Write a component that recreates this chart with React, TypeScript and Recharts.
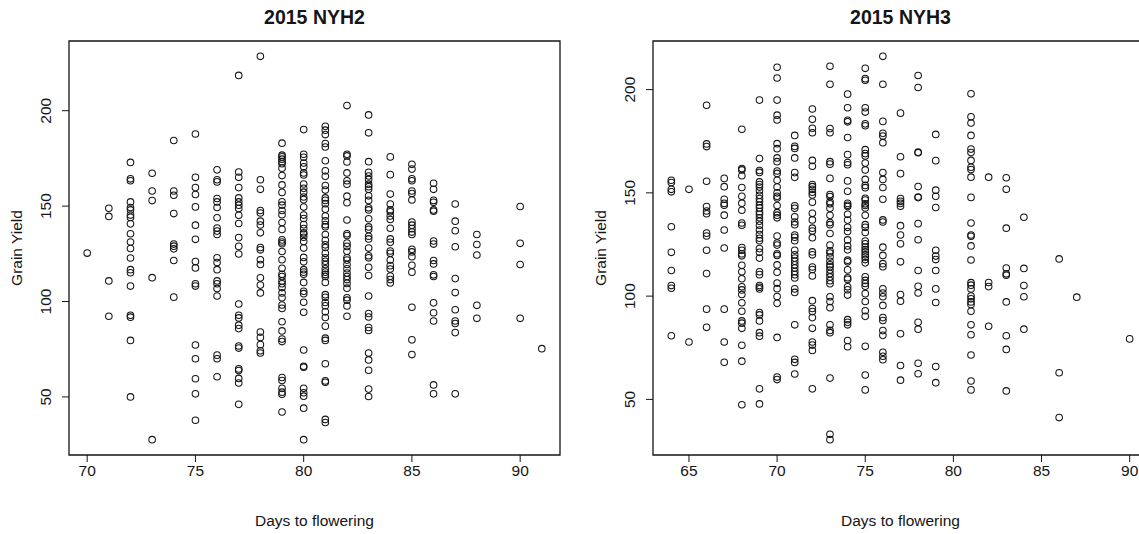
import React from "react";
import { ScatterChart, Scatter, XAxis, YAxis, ReferenceArea } from "recharts";

// 2015 NYH2: days to flowering and the grain yields recorded at each day
const NYH2_DAYS = [70, 71, 72, 73, 74, 75, 76, 77, 78, 79, 80, 81, 82, 83, 84, 85, 86, 87, 88, 90, 91];
const NYH2_YIELD = [
  [125.4],
  [148.9, 144.6, 110.8, 92.3],
  [172.9, 164.3, 163.3, 152.2, 149.3, 148, 145.3, 144.1, 140.7, 135.5, 131.2, 127.8, 122.8, 116.7, 115.1, 108.1, 92.8, 91.8, 79.6, 50],
  [167.2, 157.9, 152.9, 112.5, 27.6],
  [184.4, 157.9, 155.7, 146.1, 130.1, 129, 127.6, 121.5, 102.3],
  [187.8, 165.1, 159.7, 156.1, 149.6, 140, 132.6, 121, 117.6, 109.3, 108.1, 77.2, 70, 59.5, 51.6, 37.8],
  [169, 163.8, 162.7, 154, 152.2, 149.3, 143.9, 138.5, 136.9, 135.1, 122.9, 120.4, 116.7, 110.8, 109.3, 106.8, 102.9, 71.9, 70, 60.6],
  [218.5, 167.9, 165.1, 159.7, 154.3, 152.2, 150.5, 148.7, 145.2, 140.9, 133.5, 128.9, 124.9, 98.7, 92.8, 91.4, 87.6, 85.8, 76.7, 75.6, 64.7, 63.8, 59.7, 57.3, 46.1],
  [228.5, 163.8, 158.8, 147.7, 146.4, 142.1, 140.1, 136, 128.3, 127.1, 121.9, 119.4, 112.4, 108.6, 104.5, 84, 81.2, 77.4, 74.2, 73],
  [183, 176.7, 175.8, 174.6, 173.3, 172.2, 169.9, 166, 161.1, 157.2, 152.3, 150.5, 147.7, 145.5, 141.4, 137.8, 132.3, 131.2, 130.3, 126.2, 121.9, 117.4, 114.3, 113.1, 110.8, 109.3, 107.3, 104.5, 102, 98.2, 96.4, 89.4, 84.6, 80.3, 79, 60.2, 58.6, 54.5, 52.5, 51.4, 42.1],
  [190.1, 177.2, 175.6, 172.6, 170.6, 167.4, 166.3, 161.6, 159.3, 157.3, 154.8, 153.4, 149.5, 145.3, 143.5, 140.3, 138.2, 136, 135.3, 133.7, 131.5, 128, 123.1, 120.8, 116.7, 115.4, 114.3, 110, 105.4, 104.1, 99.6, 94.4, 74.6, 66.1, 65.6, 54.5, 52.2, 50.4, 44.1, 27.6],
  [191.8, 189.8, 187.5, 182.8, 181, 173.8, 168.5, 165.6, 160.8, 158.4, 154.3, 153, 151.3, 148.4, 144.8, 142.3, 140.3, 139.2, 135.1, 132.1, 129.7, 128.3, 125.3, 122.9, 121.1, 119.4, 117.2, 115.4, 114.2, 113.1, 110, 103.6, 102.2, 99.5, 97.8, 94.6, 91.6, 87.1, 80.8, 79.6, 67.4, 58.4, 57.7, 38.2, 36.6],
  [202.7, 177.2, 176.3, 173.1, 167.4, 163.3, 161.5, 155.2, 151.8, 142.7, 135.5, 134.6, 130.6, 128.9, 126.3, 122.9, 121.7, 119.4, 117.2, 114.9, 113.1, 111.5, 109.5, 107, 102, 100.7, 97.7, 92.3],
  [197.8, 188.4, 173.3, 167.7, 165.8, 164, 161.5, 160.2, 158.8, 155.4, 153, 149.1, 148, 143.4, 139.1, 137.8, 134.2, 132.8, 128, 124, 122.9, 117.9, 113.6, 102.9, 93.7, 91.9, 86.4, 84.8, 73, 69.4, 64, 54.1, 50.2],
  [175.8, 166.5, 156.3, 151.1, 148, 147, 144.8, 143, 138.4, 132.8, 131, 126.5, 125.3, 121.7, 118.8, 117, 113.3, 111.5, 109.7],
  [171.9, 169.4, 164.3, 163.3, 157.9, 156.6, 153.2, 141.6, 140, 138.2, 136.4, 135.1, 127.4, 126, 123.5, 119, 115.4, 97, 79.9, 72.2],
  [162, 158.8, 153, 152, 148, 147.3, 131.7, 130.1, 121.5, 119.7, 114, 113.1, 99.3, 94.1, 89.8, 56.3, 51.6],
  [151.1, 142.1, 137.1, 128.7, 112, 104.7, 95.7, 89.8, 88.5, 83.7, 51.6],
  [135.1, 129.9, 124.4, 98, 91.2],
  [149.8, 130.5, 119.4, 91.2],
  [75.3],
];
const NYH2_X_TICKS = [70, 75, 80, 85, 90];
const NYH2_Y_TICKS = [50, 100, 150, 200];

// 2015 NYH3
const NYH3_DAYS = [64, 65, 66, 67, 68, 69, 70, 71, 72, 73, 74, 75, 76, 77, 78, 79, 81, 82, 83, 84, 86, 87, 90];
const NYH3_YIELD = [
  [156.1, 155, 151.7, 150.5, 133.6, 121.2, 112.4, 105.1, 103.8, 80.8],
  [151.7, 77.8],
  [192.4, 173.7, 172.4, 155.6, 143.4, 141.2, 139.9, 130.5, 129.1, 122.2, 110.9, 93.7, 84.9],
  [157, 153, 146.9, 144.9, 144, 139.2, 132, 123.3, 93.7, 77.8, 68],
  [180.8, 161.8, 161.1, 158.3, 152.6, 148.3, 145, 141.6, 135.4, 134.3, 123.5, 122.2, 120.5, 119.5, 114.9, 111.8, 108.4, 104.5, 103, 100.8, 96.8, 92.7, 88, 86.9, 84.4, 76.2, 68.5, 47.4],
  [194.9, 166.6, 160.8, 159.9, 155.3, 154, 152.8, 151, 148.8, 147.2, 145.7, 144, 142.7, 140.9, 139.6, 137.9, 136.3, 134.3, 132, 129.8, 128, 126.8, 123, 121.2, 118.4, 111.8, 110.4, 105.1, 104.3, 103.5, 92, 90.9, 88, 82.3, 80.6, 55.1, 47.8],
  [210.8, 205.6, 194.9, 187.6, 185.3, 173.8, 171.4, 166.9, 165.1, 160.6, 159.4, 156.1, 152.8, 150, 148.3, 147.5, 143.9, 140.4, 139.2, 137.9, 129.1, 125.7, 124.7, 120.5, 119.7, 115.1, 111.6, 106.3, 103.6, 99.8, 96.5, 80, 60.8, 59.6],
  [177.8, 172.5, 171.5, 166.9, 159.8, 157.5, 143.7, 142.5, 138.4, 135.9, 134.6, 129.6, 128.5, 126.8, 122.2, 120, 118.4, 116.9, 115.2, 113.6, 111.9, 110.4, 108.8, 103.5, 101.8, 86.1, 69.4, 67.9, 62.3],
  [190.6, 185.6, 181.3, 179.1, 165.7, 162.9, 154, 153, 151.7, 150.3, 149, 145.5, 140.1, 136.9, 132.9, 131.5, 128.3, 121.4, 120, 114.1, 112.9, 109.8, 97.8, 94, 92.5, 89.6, 84.4, 77.8, 76.3, 73.7, 55.1],
  [211.3, 202.6, 181.1, 179.1, 165.1, 163.9, 157, 149.2, 148.2, 145.7, 144.7, 142.5, 139.1, 135.6, 134.6, 130.3, 124.7, 121.9, 120.9, 118.9, 116.9, 115.2, 114.2, 112.6, 110.9, 109.3, 107.5, 106, 99.7, 97.4, 94.4, 86.1, 83.4, 82.3, 60.3, 33.1, 30.5],
  [197.8, 191.2, 185.1, 184.4, 176.8, 168.5, 164.7, 163.6, 155.8, 150.8, 144.9, 144, 143.4, 139.6, 136.8, 133.3, 131.3, 127.2, 124.3, 122.4, 117.4, 116.6, 112.7, 108.9, 108.1, 104.5, 103.1, 100.5, 88.6, 87.3, 86.1, 78.5, 75.5],
  [210.3, 205.3, 204.5, 191.2, 189.1, 183.4, 182.5, 170.9, 169, 167.9, 164.4, 161.1, 156.5, 153.6, 152.5, 147.4, 146.5, 144.7, 143.9, 142.7, 139.1, 134.6, 133.3, 130.8, 126.7, 125.3, 123.8, 122.5, 121.4, 120, 118.9, 117.7, 116.1, 109.4, 107.6, 106.1, 104.8, 101.2, 97.4, 92.9, 90.2, 75.7, 61.8, 54.6],
  [216.1, 202.6, 184.6, 178.8, 177.5, 174.3, 159.8, 156.5, 152.6, 146.9, 136.9, 135.9, 123.7, 119.7, 115.7, 114.2, 103.5, 101.5, 99.7, 95.5, 89.6, 88.2, 83.3, 81, 72.8, 70.9, 69.2],
  [188.6, 167.5, 159.3, 147.2, 145.9, 144.9, 143.5, 134.1, 129.6, 125.3, 116.6, 100.8, 97.5, 81.8, 66.4, 59.3],
  [206.8, 201, 169.7, 169.4, 153.1, 148, 147.7, 135.1, 127.3, 112.4, 104.8, 101.5, 87.3, 84, 67.5, 62.4],
  [178.3, 165.6, 151.3, 148.3, 142.9, 122.2, 119.4, 117.7, 112.4, 103.5, 96.9, 65.9, 58.1],
  [198, 186.8, 183.8, 177.8, 171.2, 169.5, 165.7, 162.4, 161.3, 157.6, 147.8, 135.4, 129.6, 129, 124.3, 117.5, 106.5, 105.3, 103.5, 100, 98.7, 97.2, 96, 92.7, 86.1, 81.3, 71.5, 58.9, 54.6],
  [157.6, 106.6, 104.6, 85.4],
  [157.3, 151.7, 132.9, 113.6, 110.8, 110.1, 97.2, 80.8, 74.2, 54.1],
  [138.2, 113.4, 105.1, 99.7, 84],
  [118, 62.9, 41.2],
  [99.5],
  [79.3],
];
const NYH3_X_TICKS = [65, 70, 75, 80, 85, 90];
const NYH3_Y_TICKS = [50, 100, 150, 200];

const FONT = "'Liberation Sans', Arial, sans-serif";
const INK = "#151515";
const LABEL_SIZE = 15.5;

function toPoints(days: number[], yields: number[][]) {
  return days.flatMap((d, i) => yields[i].map((y) => ({ days: d, grain: y })));
}

// base R pads the data range by 4% on each side
function rRange(vals: number[]): [number, number] {
  const lo = Math.min(...vals);
  const hi = Math.max(...vals);
  const pad = (hi - lo) * 0.04;
  return [lo - pad, hi + pad];
}

const Ring = (props: any) => (
  <circle cx={props.cx} cy={props.cy} r={3.3} fill="none" stroke={INK} strokeWidth={1.05} />
);

const XTick = ({ x, y, payload }: any) => (
  <text x={x} y={y} dy="0.71em" textAnchor="middle" fontSize={LABEL_SIZE} fontFamily={FONT} fill={INK}>
    {payload.value}
  </text>
);

const YTick = ({ x, y, payload }: any) => (
  <text
    x={x}
    y={y}
    transform={`rotate(-90 ${x} ${y})`}
    textAnchor="middle"
    fontSize={LABEL_SIZE}
    fontFamily={FONT}
    fill={INK}
  >
    {payload.value}
  </text>
);

const CHART_H = 534;
const TOP = 41;
const BOTTOM = 49; // below the 30px x axis
const Y_AXIS_W = 60;

interface PanelProps {
  title: string;
  days: number[];
  yields: number[][];
  xTicks: number[];
  yTicks: number[];
  left: number;
  width: number;
  marginLeft: number;
  marginRight: number;
}

function Panel({ title, days, yields, xTicks, yTicks, left, width, marginLeft, marginRight }: PanelProps) {
  const data = toPoints(days, yields);
  const xDom = rRange(days);
  const yDom = rRange(yields.flat());
  const plotLeft = left + marginLeft + Y_AXIS_W;
  const plotW = width - marginLeft - marginRight - Y_AXIS_W;
  const plotBottom = CHART_H - BOTTOM - 30;
  const textStyle: React.CSSProperties = {
    position: "absolute",
    fontFamily: FONT,
    color: INK,
    whiteSpace: "nowrap",
  };

  return (
    <>
      <div style={{ position: "absolute", left, top: 0 }}>
        <ScatterChart
          width={width}
          height={CHART_H}
          margin={{ top: TOP, right: marginRight, bottom: BOTTOM, left: marginLeft }}
        >
          <XAxis
            type="number"
            dataKey="days"
            domain={xDom}
            ticks={xTicks}
            allowDataOverflow
            axisLine={false}
            tickLine={{ stroke: INK }}
            tickSize={7}
            tickMargin={3}
            tick={<XTick />}
            height={30}
          />
          <YAxis
            type="number"
            dataKey="grain"
            domain={yDom}
            ticks={yTicks}
            allowDataOverflow
            axisLine={false}
            tickLine={{ stroke: INK }}
            tickSize={7}
            tickMargin={11}
            tick={<YTick />}
            width={Y_AXIS_W}
          />
          <ReferenceArea
            x1={xDom[0]}
            x2={xDom[1]}
            y1={yDom[0]}
            y2={yDom[1]}
            fill="none"
            fillOpacity={0}
            stroke={INK}
            strokeWidth={1.3}
            ifOverflow="visible"
          />
          <Scatter data={data} shape={Ring} isAnimationActive={false} />
        </ScatterChart>
      </div>
      <div
        style={{
          ...textStyle,
          left: plotLeft,
          width: plotW,
          top: 6,
          textAlign: "center",
          fontWeight: "bold",
          fontSize: 19.5,
          lineHeight: "22px",
        }}
      >
        {title}
      </div>
      <div
        style={{
          ...textStyle,
          left: plotLeft,
          width: plotW,
          top: plotBottom + 56,
          textAlign: "center",
          fontSize: LABEL_SIZE,
          lineHeight: "20px",
        }}
      >
        Days to flowering
      </div>
      <div
        style={{
          ...textStyle,
          left: plotLeft - 52 - 100,
          width: 200,
          top: (TOP + plotBottom) / 2 - 10,
          textAlign: "center",
          fontSize: LABEL_SIZE,
          lineHeight: "20px",
          transform: "rotate(-90deg)",
        }}
      >
        Grain Yield
      </div>
    </>
  );
}

export default function App() {
  return (
    <div
      style={{
        position: "absolute",
        left: 0,
        top: 0,
        width: 1139,
        height: 534,
        overflow: "hidden",
        background: "#fff",
      }}
    >
      <Panel
        title="2015 NYH2"
        days={NYH2_DAYS}
        yields={NYH2_YIELD}
        xTicks={NYH2_X_TICKS}
        yTicks={NYH2_Y_TICKS}
        left={0}
        width={570}
        marginLeft={9}
        marginRight={10}
      />
      <Panel
        title="2015 NYH3"
        days={NYH3_DAYS}
        yields={NYH3_YIELD}
        xTicks={NYH3_X_TICKS}
        yTicks={NYH3_Y_TICKS}
        left={569}
        width={600}
        marginLeft={24}
        marginRight={21}
      />
    </div>
  );
}
